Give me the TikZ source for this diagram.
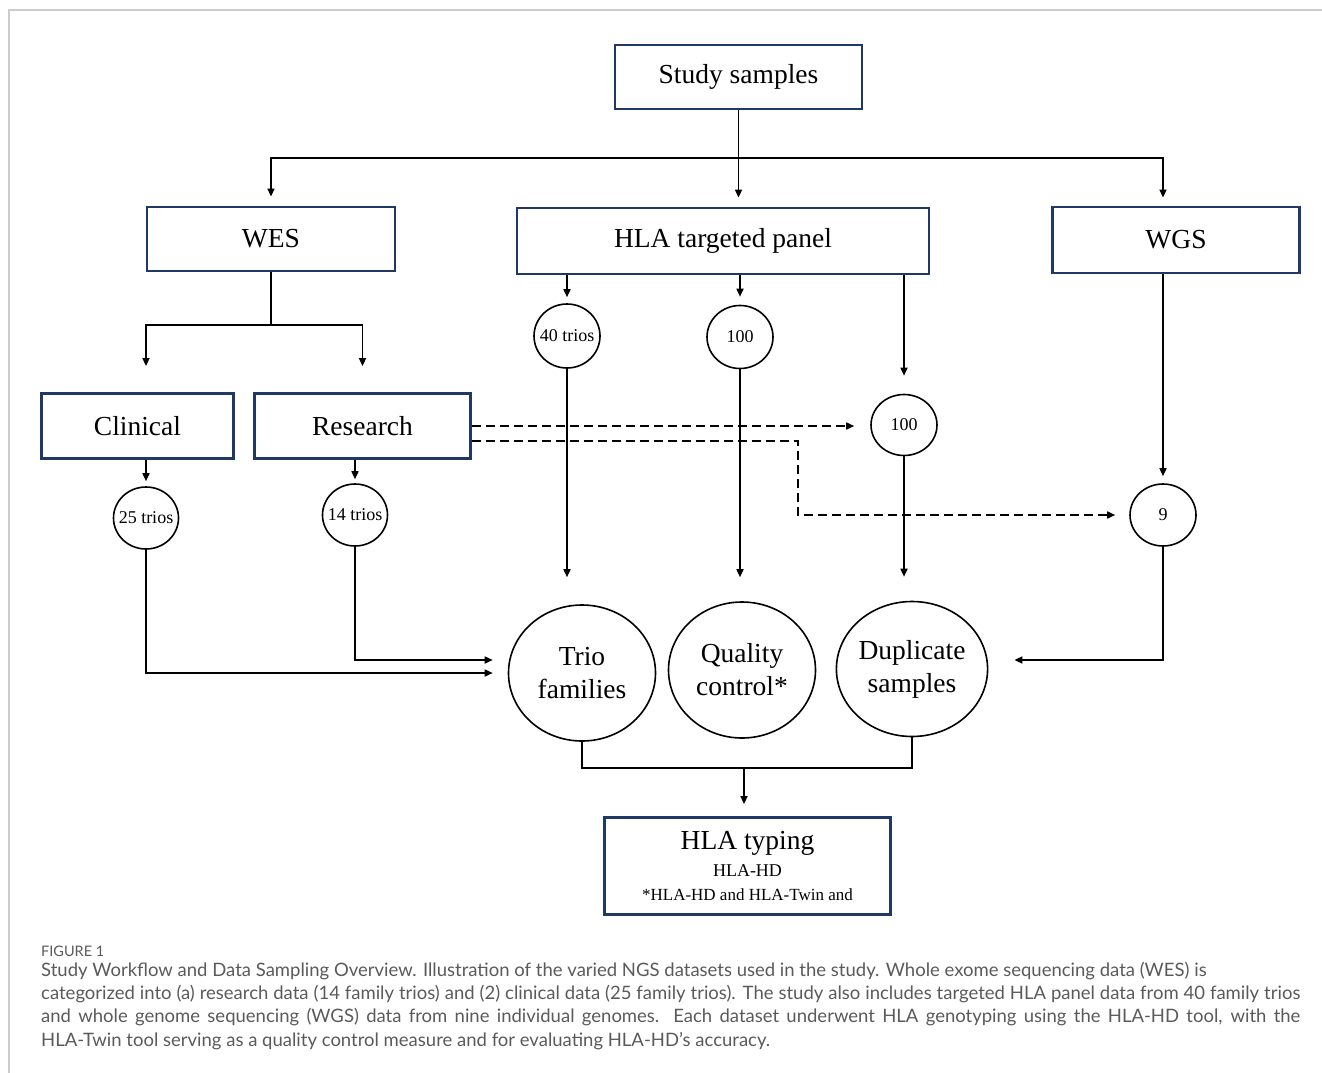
\documentclass[tikz,border=0pt]{standalone}
\usepackage{fontspec}
\setmainfont{Liberation Serif}
\newfontfamily\capfont{Lato}
\usetikzlibrary{arrows.meta,shapes.geometric,calc}
\definecolor{boxnavy}{HTML}{1F3864}
\definecolor{capgray}{HTML}{5A5A5A}
\definecolor{framegray}{HTML}{CCCCCC}

\tikzset{
	stagebox/.style={draw=boxnavy, line width=2.8pt, rectangle, inner sep=0pt, font=\fontsize{27.5}{30}\selectfont},
	countnode/.style={draw, ellipse, line width=1.6pt, inner sep=0pt, font=\fontsize{18}{20}\selectfont},
	groupnode/.style={draw, ellipse, line width=1.6pt, inner sep=0pt, align=center, font=\fontsize{27.5}{33}\selectfont},
	flow/.style={line width=1.6pt},
	flowarr/.style={flow, -{Triangle[length=8pt,width=7pt]}},
	dflow/.style={flowarr, dash pattern=on 9pt off 5pt},
	captxt/.style={anchor=base west, inner sep=0pt, text=capgray, font=\capfont\fontsize{18.5}{22}\selectfont}
}
\newcommand{\cnt}[1]{\makebox[0pt]{#1}}

\begin{document}
\begin{tikzpicture}[x=1pt,y=-1pt]
		
		\useasboundingbox (0,0) rectangle (1322,1073);
		\draw[framegray, line width=2pt] (9,1073) -- (9,10) -- (1322,10);
		
		\node[stagebox, minimum width=247, minimum height=64] (study) at (738.5,77) {Study samples};
		\node[stagebox, minimum width=248, minimum height=64] (wes) at (271,239) {WES};
		\node[stagebox, minimum width=412, minimum height=66] (panel) at (723,241) {HLA targeted panel};
		\node[stagebox, minimum width=247, minimum height=66] (wgs) at (1176,240) {WGS};
		\node[stagebox, minimum width=192, minimum height=65] (clinical) at (137.5,426) {Clinical};
		\node[stagebox, minimum width=216, minimum height=65] (research) at (362.5,426) {Research};
		\node[stagebox, minimum width=286, minimum height=97, align=center] (typing) at (747.5,866)
			{HLA typing\\[-3pt]{\fontsize{18}{21}\selectfont HLA-HD}\\[-6pt]{\fontsize{17}{21}\selectfont *HLA-HD and HLA-Twin and}};
		
		\node[countnode, minimum width=65, minimum height=62] (n25) at (146,518) {\cnt{25 trios}};
		\node[countnode, minimum width=65, minimum height=62] (n14) at (355,515) {\cnt{14 trios}};
		\node[countnode, minimum width=66, minimum height=64] (n40) at (567,336) {\cnt{40 trios}};
		\node[countnode, minimum width=66, minimum height=63] (n100qc) at (740,337) {100};
		\node[countnode, minimum width=66, minimum height=61] (n100dup) at (904,425) {100};
		\node[countnode, minimum width=66, minimum height=62] (n9) at (1163,515) {9};
		
		\node[groupnode, minimum width=147, minimum height=136] (trio) at (582,673) {Trio\\families};
		\node[groupnode, minimum width=147, minimum height=136] (qc) at (742,670) {Quality\\control*};
		\node[groupnode, minimum width=149, minimum height=135] (dup) at (912,669) {Duplicate\\samples};
		
		% top split
		\coordinate (fork) at (738,158);
		\draw[flowarr, shorten >=9pt] (study.south) -- (study.south |- panel.north);
		\draw[flowarr, shorten >=9pt] (fork) -| (wes.north);
		\draw[flowarr, shorten >=8pt] (fork) -| (n9 |- wgs.north);
		
		% exome branch
		\coordinate (wesfork) at (271,325);
		\draw[flow] (wes.south) -- (wesfork);
		\draw[flowarr, shorten >=26pt] (wesfork) -| (n25 |- clinical.north);
		\draw[flowarr, shorten >=26pt] (wesfork) -| (research.north);
		\draw[flowarr, shorten >=5pt] (n25 |- clinical.south) -- (n25.north);
		\draw[flowarr, shorten >=4pt] (n14 |- research.south) -- (n14.north);
		\draw[flowarr, shorten >=15pt] (n25.south) |- (trio.west);
		\draw[flowarr, shorten >=15pt] (n14.south) |- ([yshift=13pt]trio.west);
		
		% panel branch
		\draw[flowarr, shorten >=6pt] (n40 |- panel.south) -- (n40.north);
		\draw[flowarr, shorten >=8pt] (n100qc |- panel.south) -- (n100qc.north);
		\draw[flowarr, shorten >=18pt] (n100dup |- panel.south) -- (n100dup.north);
		\draw[flowarr, shorten >=27pt] (n40.south) -- (n40 |- trio.north);
		\draw[flowarr, shorten >=24pt] (n100qc.south) -- (n100qc |- qc.north);
		\draw[flowarr, shorten >=24pt] (n100dup.south) -- (n100dup |- dup.north);
		
		% genome branch
		\draw[flowarr, shorten >=7pt] (n9 |- wgs.south) -- (n9.north);
		\draw[flowarr, shorten >=26pt] (n9.south) |- ([yshift=9pt]dup.east);
		
		% research duplicates
		\coordinate (dbend) at (798,441);
		\draw[dflow, shorten >=16pt] (research.east) -- (research.east -| n100dup.west);
		\draw[dflow, shorten >=14pt] ([yshift=-15pt]research.east) -- (dbend) |- (n9.west);
		
		% merge
		\coordinate (merge) at (744,768);
		\draw[flow] (trio.south) |- (merge) -| (dup.south);
		\draw[flowarr, shorten >=12pt] (merge) -- (merge |- typing.north);
		
		\node[anchor=base west, inner sep=0pt, text=capgray, font=\capfont\fontsize{14.5}{16}\selectfont] (fig) at (41,956) {FIGURE 1};
		\node[captxt] (cap1) at (41,976) {Study Workflow and Data Sampling Overview. Illustration of the varied NGS datasets used in the study. Whole exome sequencing data (WES) is};
		\node[captxt] (cap2) at (41,999) {\makebox[1259pt][s]{categorized into (a) research data (14 family trios) and (2) clinical data (25 family trios). The study also includes targeted HLA panel data from 40 family trios}};
		\node[captxt] (cap3) at (41,1022) {\makebox[1259pt][s]{and whole genome sequencing (WGS) data from nine individual genomes. Each dataset underwent HLA genotyping using the HLA-HD tool, with the}};
		\node[captxt] (cap4) at (41,1046) {HLA-Twin tool serving as a quality control measure and for evaluating HLA-HD’s accuracy.};
		
	\end{tikzpicture}
\end{document}
